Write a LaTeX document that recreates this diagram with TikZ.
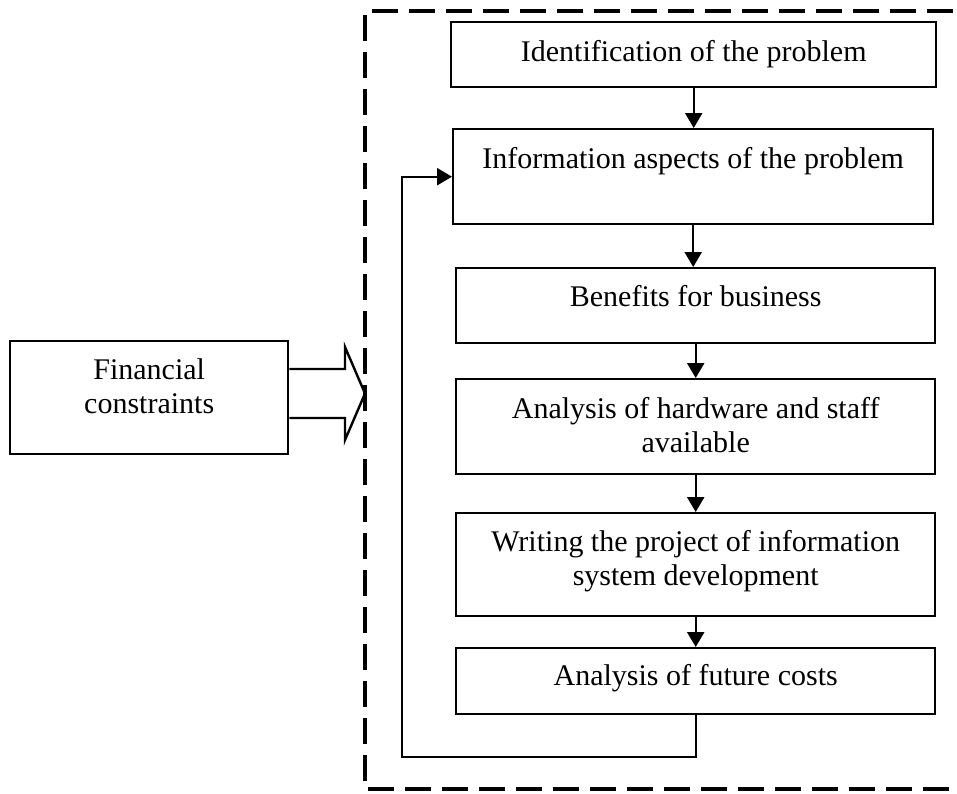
\documentclass[tikz,border=0pt]{standalone}
\usepackage{fontspec}
\setmainfont{Liberation Serif}
\usetikzlibrary{arrows.meta}
\begin{document}
\begin{tikzpicture}[x=1pt,y=-1pt,
  stepbox/.style={draw,line width=2.4pt,inner sep=0pt,anchor=north west},
  steptext/.style={anchor=north,inner sep=0pt,align=center,
    font=\fontsize{30}{34}\selectfont},
  arr/.style={line width=2.4pt,-{Triangle[width=17pt,length=15pt]}},
  blockarrow/.style={line width=2.4pt,line join=miter},
  frame/.style={line width=3.8pt,dash pattern=on 26pt off 11pt}]
\useasboundingbox (0,0) rectangle (957,793);
\fill[white] (0,0) rectangle (957,793);

% dashed frame around the process steps (right side lies past the edge)
\draw[frame] (990,11) -- (365,11) -- (365,789) -- (990,789);

% process steps
\node[stepbox,minimum width=485pt,minimum height=65pt]  (b1) at (450,21)  {};
\node[stepbox,minimum width=480pt,minimum height=95pt]  (b2) at (452,128) {};
\node[stepbox,minimum width=479pt,minimum height=75pt]  (b3) at (455,267) {};
\node[stepbox,minimum width=479pt,minimum height=95pt]  (b4) at (455,378) {};
\node[stepbox,minimum width=479pt,minimum height=103pt] (b5) at (455,512) {};
\node[stepbox,minimum width=479pt,minimum height=66pt]  (b6) at (455,647) {};
\node[stepbox,minimum width=278pt,minimum height=113pt] (fin) at (9,340) {};

\node[steptext] (t1) at ([yshift=-19pt]b1.north) {Identification of the problem};
\node[steptext] (t2) at ([yshift=-19pt]b2.north) {Information aspects of the problem};
\node[steptext] (t3) at ([yshift=-18pt]b3.north) {Benefits for business};
\node[steptext] (t4) at ([yshift=-19pt]b4.north) {Analysis of hardware and staff\\available};
\node[steptext] (t5) at ([yshift=-18pt]b5.north) {Writing the project of information\\system development};
\node[steptext] (t6) at ([yshift=-17pt]b6.north) {Analysis of future costs};
\node[steptext] (tf) at ([yshift=-18pt]fin.north) {Financial\\constraints};

% flow between the steps
\draw[arr] (b1.south) -- (b1.south |- b2.north);
\draw[arr] (b2.south) -- (b2.south |- b3.north);
\draw[arr] (b3.south) -- (b3.south |- b4.north);
\draw[arr] (b4.south) -- (b4.south |- b5.north);
\draw[arr] (b5.south) -- (b5.south |- b6.north);

% feedback loop back to the information aspects
\coordinate (fbl) at (402,757);
\draw[arr] (b6.south) |- (fbl) |- (b2.west);

% block arrow from the financial constraints into the frame
\coordinate (tip) at (365,393.5);
\draw[blockarrow] (fin.east |- 0,369) -- (345,369) -- (345,347) -- (tip)
  -- (345,440) -- (345,418) -- (fin.east |- 0,418);
\end{tikzpicture}
\end{document}
